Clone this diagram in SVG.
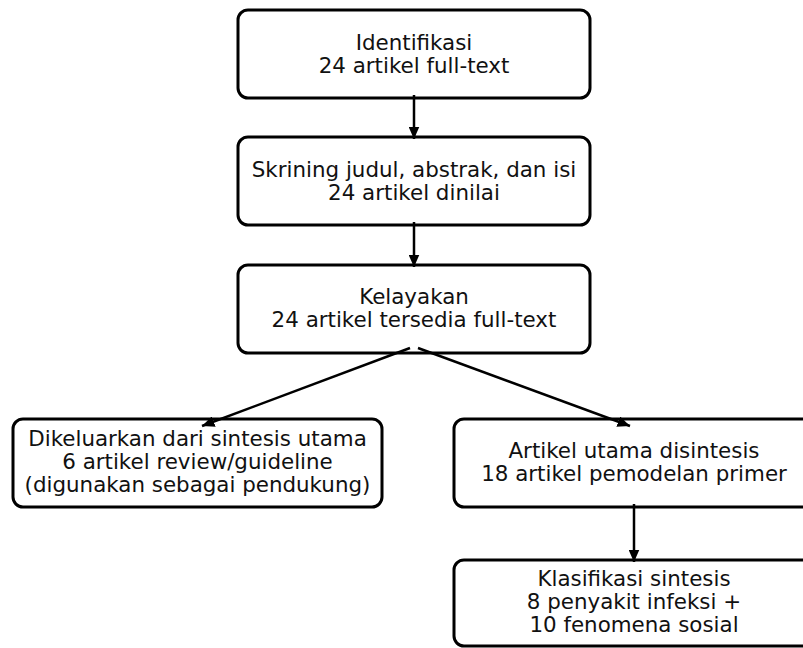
<svg xmlns="http://www.w3.org/2000/svg" width="803" height="648" viewBox="0 0 803 648">
<style>
.box{fill:#fff;stroke:#000;stroke-width:3}
.t{font-family:"DejaVu Sans",sans-serif;font-size:21.4px;fill:#111;text-anchor:middle}
.c{stroke:#000;stroke-width:2.5;fill:none}
</style>
<defs>
<marker id="ah" viewBox="0 0 10 10" refX="10" refY="5" markerWidth="5" markerHeight="4.4" orient="auto" markerUnits="strokeWidth" preserveAspectRatio="none">
<path d="M0,0 L10,5 L0,10 z" fill="#000"/>
</marker>
</defs>
<rect width="803" height="648" fill="#fff"/>
<g id="n1"><rect class="box" x="238" y="10" width="352" height="88" rx="10"/>
<text class="t" x="414" y="50">Identifikasi</text><text class="t" x="414" y="73">24 artikel full-text</text></g>
<g id="n2"><rect class="box" x="238" y="137" width="352" height="88" rx="10"/>
<text class="t" x="414" y="177">Skrining judul, abstrak, dan isi</text><text class="t" x="414" y="200">24 artikel dinilai</text></g>
<g id="n3"><rect class="box" x="238" y="265" width="352" height="88" rx="10"/>
<text class="t" x="414" y="304">Kelayakan</text><text class="t" x="414" y="327">24 artikel tersedia full-text</text></g>
<g id="n4"><rect class="box" x="13" y="419" width="369" height="88" rx="10"/>
<text class="t" x="197.5" y="446">Dikeluarkan dari sintesis utama</text><text class="t" x="197.5" y="469">6 artikel review/guideline</text><text class="t" x="197.5" y="492">(digunakan sebagai pendukung)</text></g>
<g id="n5"><rect class="box" x="454" y="419" width="360" height="88" rx="10"/>
<text class="t" x="634" y="458">Artikel utama disintesis</text><text class="t" x="634" y="481">18 artikel pemodelan primer</text></g>
<g id="n6"><rect class="box" x="454" y="560" width="360" height="86" rx="10"/>
<text class="t" x="634" y="586">Klasifikasi sintesis</text><text class="t" x="634" y="609">8 penyakit infeksi +</text><text class="t" x="634" y="632">10 fenomena sosial</text></g>
<g id="connectors">
<line class="c" x1="414" y1="95" x2="414" y2="139" marker-end="url(#ah)"/>
<line class="c" x1="414" y1="222" x2="414" y2="267" marker-end="url(#ah)"/>
<line class="c" x1="410" y1="348" x2="202" y2="426" marker-end="url(#ah)"/>
<line class="c" x1="418" y1="348" x2="630" y2="426" marker-end="url(#ah)"/>
<line class="c" x1="634" y1="504" x2="634" y2="562" marker-end="url(#ah)"/>
</g>
</svg>
